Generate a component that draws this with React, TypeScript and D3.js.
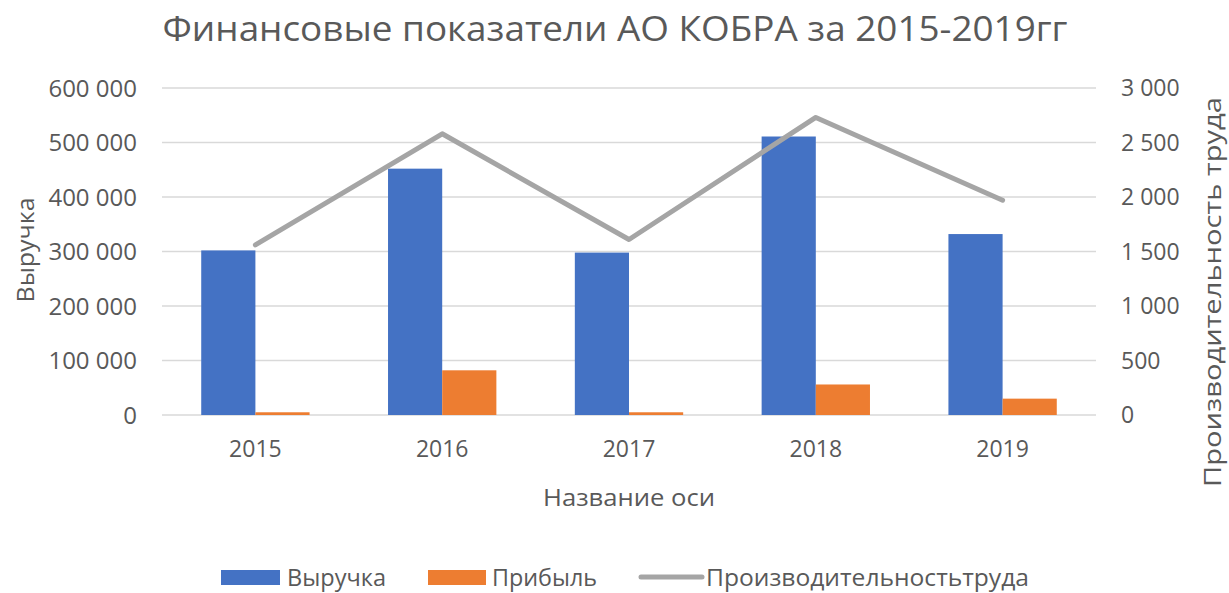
import React from "react";
import * as d3 from "d3";

const years = ["2015", "2016", "2017", "2018", "2019"];
const revenue = [302000, 452000, 298000, 511000, 332000];
const profit = [5000, 82000, 5000, 56000, 30000];
const productivity = [1560, 2580, 1610, 2730, 1970];
const leftTicks = [0, 100000, 200000, 300000, 400000, 500000, 600000];
const rightTicks = [0, 500, 1000, 1500, 2000, 2500, 3000];

const title = "Финансовые показатели АО КОБРА за 2015-2019гг";
const leftTitle = "Выручка";
const rightTitle = "Производительность труда";
const xTitle = "Название оси";
const legendNames = ["Выручка", "Прибыль", "Производительностьтруда"];

const W = 1229;
const H = 593;
const FONT = "'Open Sans', sans-serif";
const TXT = "#595959";
const BLUE = "#4472C4";
const ORANGE = "#ED7D31";
const GRAY = "#A5A5A5";

const fmt = (v: number) => d3.format(",")(v).replace(/,/g, " ");

export default function App() {
  const x = d3.scaleBand<string>().domain(years).range([162, 1096]).padding(0);
  const yL = d3.scaleLinear().domain([0, 600000]).range([415, 88]);
  const yR = d3.scaleLinear().domain([0, 3000]).range([415, 88]);
  const bw = x.bandwidth() * 0.29;
  const cx = (y: string) => (x(y) as number) + x.bandwidth() / 2;
  const line = d3
    .line<number>()
    .x((_, i) => cx(years[i]))
    .y((d) => yR(d));

  return (
    <svg
      width={W}
      height={H}
      style={{ position: "absolute", left: 0, top: 0, background: "#fff" }}
      fontFamily={FONT}
    >
      <rect width={W} height={H} fill="#fff" />
      <text
        x={615}
        y={41}
        textAnchor="middle"
        fontSize={34}
        fill={TXT}
        textLength={905}
        lengthAdjust="spacingAndGlyphs"
      >
        {title}
      </text>
      {leftTicks.map((t) => (
        <line key={t} x1={162} x2={1096} y1={yL(t)} y2={yL(t)} stroke="#D9D9D9" strokeWidth={1.5} />
      ))}
      {years.map((yr, i) => (
        <g key={yr}>
          <rect x={cx(yr) - bw} y={yL(revenue[i])} width={bw} height={yL(0) - yL(revenue[i])} fill={BLUE} />
          <rect x={cx(yr)} y={yL(profit[i])} width={bw} height={yL(0) - yL(profit[i])} fill={ORANGE} />
        </g>
      ))}
      <path d={line(productivity) || ""} fill="none" stroke={GRAY} strokeWidth={5} strokeLinecap="round" strokeLinejoin="round" />
      {leftTicks.map((t) => (
        <text key={t} x={137} y={yL(t)} dy="0.36em" textAnchor="end" fontSize={24} fill={TXT}>
          {fmt(t)}
        </text>
      ))}
      {rightTicks.map((t) => (
        <text key={t} x={1121} y={yR(t)} dy="0.36em" textAnchor="start" fontSize={23} fill={TXT}>
          {fmt(t)}
        </text>
      ))}
      {years.map((yr) => (
        <text key={yr} x={cx(yr)} y={449} dy="0.36em" textAnchor="middle" fontSize={23} fill={TXT}>
          {yr}
        </text>
      ))}
      <text x={629} y={497} dy="0.36em" textAnchor="middle" fontSize={24} fill={TXT} textLength={172} lengthAdjust="spacingAndGlyphs">
        {xTitle}
      </text>
      <text transform="translate(25,250) rotate(-90)" dy="0.36em" textAnchor="middle" fontSize={24} fill={TXT} textLength={105} lengthAdjust="spacingAndGlyphs">
        {leftTitle}
      </text>
      <text transform="translate(1212,292) rotate(-90)" dy="0.36em" textAnchor="middle" fontSize={24} fill={TXT} textLength={390} lengthAdjust="spacingAndGlyphs">
        {rightTitle}
      </text>
      <g>
        <rect x={221} y={570} width={59} height={15} fill={BLUE} />
        <text x={287} y={577} dy="0.36em" fontSize={24} fill={TXT} textLength={99} lengthAdjust="spacingAndGlyphs">{legendNames[0]}</text>
        <rect x={428} y={570} width={58} height={15} fill={ORANGE} />
        <text x={492} y={577} dy="0.36em" fontSize={24} fill={TXT} textLength={105} lengthAdjust="spacingAndGlyphs">{legendNames[1]}</text>
        <line x1={641} x2={702} y1={577} y2={577} stroke={GRAY} strokeWidth={5} strokeLinecap="round" />
        <text x={706} y={577} dy="0.36em" fontSize={24} fill={TXT} textLength={323} lengthAdjust="spacingAndGlyphs">{legendNames[2]}</text>
      </g>
    </svg>
  );
}
